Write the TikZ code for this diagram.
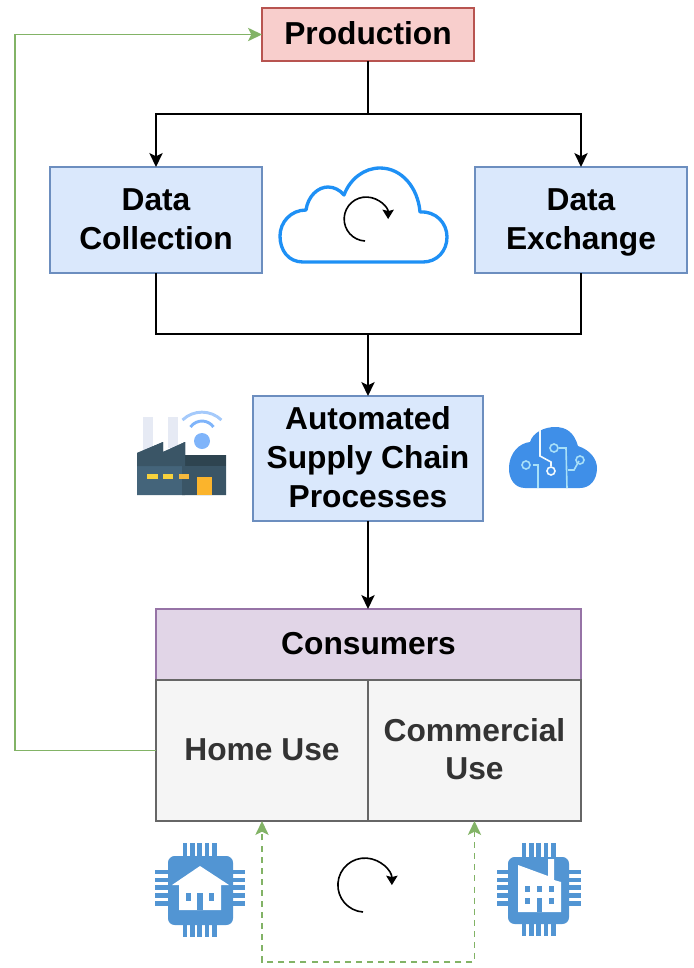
\documentclass[tikz,border=0pt]{standalone}
\usepackage{fontspec}
\setmainfont{Liberation Sans}
\usetikzlibrary{arrows.meta,calc}
\definecolor{blF}{HTML}{DAE8FC}\definecolor{blS}{HTML}{6C8EBF}
\definecolor{rdF}{HTML}{F8CECC}\definecolor{rdS}{HTML}{B85450}
\definecolor{puF}{HTML}{E1D5E7}\definecolor{puS}{HTML}{9673A6}
\definecolor{grF}{HTML}{F5F5F5}\definecolor{grS}{HTML}{666666}\definecolor{grT}{HTML}{333333}
\definecolor{grn}{HTML}{82B366}\definecolor{chip}{HTML}{5295D3}
\definecolor{sky}{HTML}{1E90F5}\definecolor{facA}{HTML}{44647A}\definecolor{facB}{HTML}{3A5566}
\definecolor{facC}{HTML}{2E4450}\definecolor{cloudB}{HTML}{3F8FE8}\definecolor{trace}{HTML}{A8E0F8}
\definecolor{wifi}{HTML}{7FB4FA}\definecolor{chim}{HTML}{E6EAF4}
\definecolor{winY}{HTML}{F7D13D}\definecolor{winO}{HTML}{F5B83D}\definecolor{doorO}{HTML}{FBB42C}
\newcommand{\lns}{\rule[-7.1pt]{0pt}{29pt}}
\tikzset{
  x=0.75pt,y=-0.75pt,
  boxbase/.style={draw,line width=1.2pt,inner sep=0pt,outer sep=0pt,align=center,font=\fontsize{23.8}{29}\selectfont\bfseries,anchor=north west},
  bluebox/.style={boxbase,fill=blF,draw=blS},
  link/.style={line width=1.3pt,black,-{Stealth[length=10.5pt,width=10pt,inset=2.5pt]}},
  plainlink/.style={line width=1.3pt,black},
  greenlink/.style={line width=1.1pt,grn,-{Stealth[length=10.5pt,width=10pt,inset=2.5pt]}},
  greendash/.style={line width=1.1pt,grn,dash pattern=on 4.5pt off 3.8pt,{Stealth[length=10.5pt,width=10pt,inset=2.5pt]}-{Stealth[length=10.5pt,width=10pt,inset=2.5pt]}},
  cycle arrow/.style={line width=1.2pt,black,-{Stealth[length=7pt,width=8.5pt,inset=1pt]}}
}
\newcommand{\pinsH}[3]{\foreach \k in {0,1,2,3,4}{\fill[chip] ({#1+\k*7.35-2.4},#2) rectangle ({#1+\k*7.35+2.4},#3);}}
\newcommand{\pinsV}[3]{\foreach \k in {0,1,2,3,4}{\fill[chip] (#1,{#3+\k*7.9-2.4}) rectangle (#2,{#3+\k*7.9+2.4});}}
\begin{document}
\begin{tikzpicture}
\useasboundingbox (0,0) rectangle (693,968);
% boxes
\node[boxbase,fill=rdF,draw=rdS,minimum width=159pt,minimum height=39.75pt] (prod) at (262,8) {\lns Production};
\node[bluebox,minimum width=159pt,minimum height=79.5pt] (coll) at (50,167) {\lns Data\\\lns Collection};
\node[bluebox,minimum width=159pt,minimum height=79.5pt] (exch) at (475,167) {\lns Data\\\lns Exchange};
\node[bluebox,minimum width=172.5pt,minimum height=93.75pt] (auto) at (253,396) {\lns Automated\\\lns Supply Chain\\\lns Processes};
\node[boxbase,fill=puF,draw=puS,minimum width=318.75pt,minimum height=53.25pt] (cons) at (156,609) {\lns Consumers};
\node[boxbase,fill=grF,draw=grS,text=grT,minimum width=159pt,minimum height=105.75pt] (home) at (156,680) {\lns Home Use};
\node[boxbase,fill=grF,draw=grS,text=grT,minimum width=159.75pt,minimum height=105.75pt] (comm) at (368,680) {\lns Commercial\\\lns Use};
% connectors
\coordinate (split) at (368,114);
\coordinate (merge) at (368,334);
\draw[plainlink] (prod.south) -- (split);
\draw[link] (split) -| (coll.north);
\draw[link] (split) -| (exch.north);
\draw[plainlink] (coll.south) |- (merge);
\draw[plainlink] (exch.south) |- (merge);
\draw[link] (merge) -- (auto.north);
\draw[link] (auto.south) -- (auto.south |- cons.north);
\coordinate (gl) at (15,34);
\draw[greenlink] (home.west) -| (gl |- prod.west) -- (prod.west);
\coordinate (dl) at (262,962);
\coordinate (dr) at (474.5,962);
\draw[greendash] (comm.south) -- (comm.south |- dr) -- (home.south |- dl) -- (home.south);
% blue cloud
\draw[sky,line width=2.5pt,line join=round]
 (303,262) .. controls (288,262) and (280,250) .. (280,236)
 .. controls (280,222) and (291,210) .. (306,210)
 .. controls (308,196) and (318,187) .. (328,187)
 .. controls (334,187) and (340,190) .. (344,195)
 .. controls (350,179) and (364,168) .. (380,168)
 .. controls (402,168) and (418,188) .. (420,212)
 .. controls (436,211) and (447,223) .. (447,237)
 .. controls (447,251) and (437,262) .. (423,262) -- cycle;
\draw[cycle arrow] (365,241) arc[start angle=93,end angle=360,radius=22];
\draw[cycle arrow] (363,912) arc[start angle=94,end angle=360,radius=27];
% factory icon
\fill[chim] (143,417) rectangle (153,450);
\fill[chim] (168,417) rectangle (178,448);
\fill[facA] (137,453) -- (163,442) -- (163,452) -- (185,442) -- (185,495) -- (137,495) -- cycle;
\fill[facB] (182,443.5) -- (185,442) -- (185,455) -- (226,455) -- (226,495) -- (182,495) -- cycle;
\fill[facC] (182,455) rectangle (226,466);
\fill[facB] (137,453) -- (163,442) -- (163,452) -- (185,442) -- (185,466) -- (137,466) -- cycle;
\fill[winY] (147,474) rectangle (158,479);
\fill[winY] (163,474) rectangle (173,479);
\fill[winO] (179,474) rectangle (189,479);
\fill[doorO] (197,477) rectangle (212,495);
\fill[wifi] (202,441) circle[radius=8];
\draw[wifi,line width=2.2pt] (190.5,427) arc[start angle=215,end angle=325,radius=14];
\draw[wifi!70!white,line width=2.2pt] (182.5,420) arc[start angle=226,end angle=314,radius=28];
% tech cloud
\fill[cloudB] (525,488)
 .. controls (514,488) and (509,478) .. (509,469)
 .. controls (509,452) and (520,443) .. (530,442)
 .. controls (533,432) and (545,427) .. (555,427)
 .. controls (566,427) and (574,432) .. (578,446)
 .. controls (590,450) and (597,459) .. (597,468)
 .. controls (597,480) and (590,488) .. (580,488) -- cycle;
\begin{scope}[trace,line width=1.2pt]
\draw[white!85!trace] (540,430) -- (540,456) -- (551,462) -- (551,466);
\draw[white!85!trace] (551,471) circle[radius=4];
\draw (559,448) -- (566,448) -- (567,488);
\draw (554,448) circle[radius=4];
\draw (533,465) -- (538,465) -- (538,488);
\draw (526,465) circle[radius=4];
\draw (579,461) -- (574,470) -- (568,470);
\draw (580,460) circle[radius=4];
\end{scope}
% home chip
\pinsH{185}{843}{937}
\pinsV{155}{245}{872}
\fill[chip,rounded corners=5pt] (168,856) rectangle (233,925);
\fill[white] (200,866) -- (229,885) -- (221,885) -- (221,910) -- (179,910) -- (179,885) -- (172,885) -- cycle;
\fill[chip] (186,893) rectangle (191,901);
\fill[chip] (209,893) rectangle (214,901);
\fill[chip] (197,893) rectangle (203,910);
% factory chip
\pinsH{524}{843}{936}
\pinsV{497}{581}{872}
\fill[chip,rounded corners=5pt] (508,857) rectangle (569,924);
\fill[white] (518,865) -- (548,876) -- (548,859) -- (554,859) -- (554,880) -- (561,882) -- (561,912) -- (518,912) -- cycle;
\foreach \a in {525,537,549}{\fill[chip] (\a,886) rectangle +(5,6);}
\foreach \a in {525,549}{\fill[chip] (\a,898) rectangle +(5,6);}
\fill[chip] (537,898) rectangle (542,912);
\end{tikzpicture}
\end{document}
